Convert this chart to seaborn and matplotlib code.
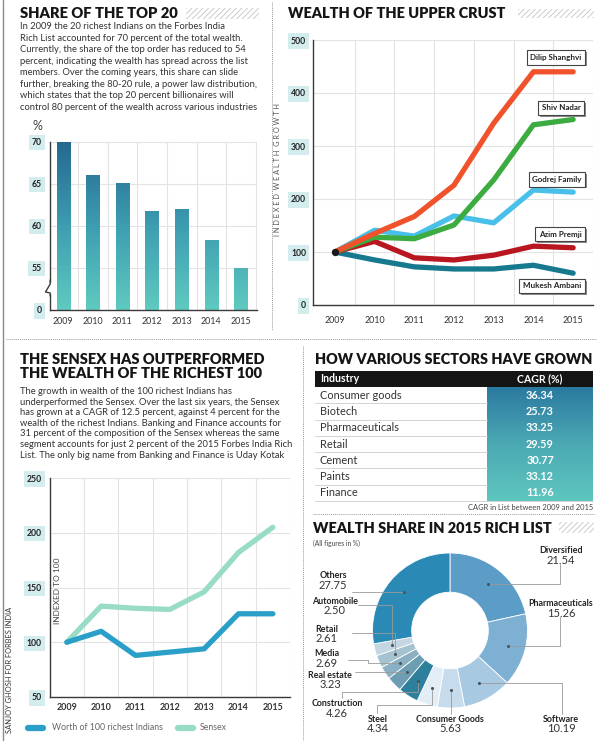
import numpy as np
import pandas as pd
import matplotlib
matplotlib.use('Agg')
import matplotlib.pyplot as plt
import seaborn as sns
import matplotlib.patheffects as pe
from matplotlib.colors import LinearSegmentedColormap
from matplotlib.patches import Rectangle

# ---------------- data ----------------
years = ['2009', '2010', '2011', '2012', '2013', '2014', '2015']
top20_share = [70, 66, 65, 61.7, 62, 58.2, 54.9]
top20_ticks = [50, 55, 60, 65, 70]
top20_ticklabels = ['0', '55', '60', '65', '70']

shanghvi = [100, 135, 167, 226, 343, 440, 440]
nadar = [100, 128, 125, 151, 236, 340, 350]
godrej = [100, 141, 130, 168, 155, 217, 213]
premji = [100, 120, 89, 85, 94, 111, 108]
ambani = [100, 85, 72, 68, 68, 75, 60]
upper_names = ['Mukesh Ambani', 'Godrej Family', 'Azim Premji', 'Shiv Nadar', 'Dilip Shanghvi']

richest100 = [100, 110, 88, 91, 94, 126, 126]
sensex = [100, 133, 131, 130, 146, 182, 205]

industries = ['Consumer goods', 'Biotech', 'Pharmaceuticals', 'Retail', 'Cement', 'Paints', 'Finance']
cagr = [36.34, 25.73, 33.25, 29.59, 30.77, 33.12, 11.96]

share_labels = ['Diversified', 'Pharmaceuticals', 'Software', 'Consumer Goods', 'Steel',
                'Construction', 'Real estate', 'Media', 'Retail', 'Automobile', 'Others']
share_values = [21.54, 15.26, 10.19, 5.63, 4.34, 4.26, 3.23, 2.69, 2.61, 2.50, 27.75]
share_colors = ['#5b9dc7', '#7eb0d4', '#a7c9e2', '#c6dcec', '#e3edf5',
                '#2e7f9c', '#6c9db3', '#8bb0c3', '#a5c2d1', '#c3d6e2', '#2b8ab5']

para1 = ["In 2009 the 20 richest Indians on the Forbes India",
         "Rich List accounted for 70 percent of the total wealth.",
         "Currently, the share of the top order has reduced to 54",
         "percent, indicating the wealth has spread across the list",
         "members. Over the coming years, this share can slide",
         "further, breaking the 80-20 rule, a power law distribution,",
         "which states that the top 20 percent billionaires will",
         "control 80 percent of the wealth across various industries"]
para3 = ["The growth in wealth of the 100 richest Indians has",
         "underperformed the Sensex. Over the last six years, the Sensex",
         "has grown at a CAGR of 12.5 percent, against 4 percent for the",
         "wealth of the richest Indians. Banking and Finance accounts for",
         "31 percent of the composition of the Sensex whereas the same",
         "segment accounts for just 2 percent of the 2015 Forbes India Rich",
         "List. The only big name from Banking and Finance is Uday Kotak"]

# ---------------- setup ----------------
sns.set_style('white')
plt.rcParams['font.family'] = ['Lato', 'DejaVu Sans']
plt.rcParams['hatch.linewidth'] = 0.6
plt.rcParams['hatch.color'] = '#c4c4c4'

W, H = 600, 741
fig = plt.figure(figsize=(W / 100, H / 100), dpi=100)
fig.patch.set_facecolor('white')


def rect(x0, y0, x1, y1):
    return [x0 / W, 1 - y1 / H, (x1 - x0) / W, (y1 - y0) / H]


ov = fig.add_axes([0, 0, 1, 1], zorder=20)
ov.set_xlim(0, W)
ov.set_ylim(H, 0)
ov.axis('off')
ov.patch.set_alpha(0)
renderer = fig.canvas.get_renderer()

GRID = '#e3e3e3'
SPINE = '#3a3a3a'
TICKBOX = dict(boxstyle='square,pad=0.35', fc='#d3ecee', ec='none')


def title(x, y, s, w):
    t = ov.text(x, y, s, ha='left', va='center', fontsize=11, fontweight='heavy', color='#151515')
    bb = t.get_window_extent(renderer)
    t.set_fontsize(11 * w / bb.width)
    return t


def paragraph(x, y0, dy, lines, ref_idx, ref_w):
    ts = [ov.text(x, y0 + i * dy, s, ha='left', va='center', fontsize=7, color='#333333')
          for i, s in enumerate(lines)]
    wid = ts[ref_idx].get_window_extent(renderer).width
    for t in ts:
        t.set_fontsize(7 * ref_w / wid)


def hatch(x0, y0, x1, y1):
    ov.add_patch(Rectangle((x0, y0), x1 - x0, y1 - y0, fc='none', ec='#c4c4c4', lw=0, hatch='//////'))


def style(ax, xpad, ypad, xbold=False):
    sns.despine(ax=ax)
    for s in ['left', 'bottom']:
        ax.spines[s].set_color(SPINE)
        ax.spines[s].set_linewidth(1.0)
    ax.set_xlabel('')
    ax.set_ylabel('')
    ax.tick_params(axis='both', which='both', length=0)
    ax.tick_params(axis='x', pad=xpad, labelsize=6.4, labelcolor='#333333')
    ax.tick_params(axis='y', pad=ypad, labelsize=6.2, labelcolor='#222222')
    for lab in ax.get_yticklabels():
        lab.set_bbox(TICKBOX)
        lab.set_fontweight('bold')
    if xbold:
        for lab in ax.get_xticklabels():
            lab.set_fontweight('bold')
    ax.set_axisbelow(True)


# ---------------- frame decorations ----------------
ov.plot([3, 3], [0, 741], color='#8a8a8a', lw=1.0)
ov.plot([272, 272], [2, 330], color='#9a9a9a', lw=0.7, ls=(0, (1, 1)))
ov.plot([6, 596], [339, 339], color='#9a9a9a', lw=0.7, ls=(0, (1, 1)))
ov.plot([303, 303], [346, 741], color='#9a9a9a', lw=0.7, ls=(0, (1, 1)))
ov.plot([313, 594], [514, 514], color='#9a9a9a', lw=0.7, ls=(0, (1, 1)))

# ---------------- panel 1: share of top 20 ----------------
title(20, 14, 'SHARE OF THE TOP 20', 159)
hatch(186, 8, 259, 19)
paragraph(20, 26.7, 11.5, para1, 7, 238)
ov.text(37, 126, '%', ha='center', va='center', fontsize=9, color='#444444')

ax1 = fig.add_axes(rect(50, 141.7, 257, 310))
df1 = pd.DataFrame({'year': years, 'share': top20_share})
sns.barplot(data=df1, x='year', y='share', ax=ax1, color='#3b8fa9', width=0.44, saturation=1)
cm_bar = LinearSegmentedColormap.from_list('bar', ['#5fcac0', '#3d9db1', '#25698f'])
for p in list(ax1.patches):
    x0, w, top = p.get_x(), p.get_width(), p.get_y() + p.get_height()
    grad = np.linspace(50, top, 80).reshape(-1, 1)
    ax1.imshow(grad, extent=(x0, x0 + w, 50, top), origin='lower', aspect='auto',
               cmap=cm_bar, vmin=50, vmax=70, zorder=2)
    p.set_visible(False)
ax1.set_xlim(-0.44, 6.54)
ax1.set_ylim(50, 70)
ax1.set_yticks(top20_ticks)
ax1.set_yticklabels(top20_ticklabels)
ax1.set_xticks(range(7))
ax1.set_xticklabels(years)
ax1.set_xticks(np.arange(7) + 0.5, minor=True)
ax1.grid(axis='y', which='major', color=GRID, lw=0.8)
ax1.grid(axis='x', which='minor', color=GRID, lw=0.8)
style(ax1, 5, 6)
# broken axis mark
ov.add_patch(Rectangle((47, 283), 6, 11, fc='white', ec='none', zorder=3))
ov.plot([50.2, 50.2, 45.5, 50.2, 50.2], [280, 284, 292, 293, 296], color=SPINE, lw=1.0, zorder=4)

# ---------------- panel 2: wealth of the upper crust ----------------
title(288.5, 13.5, 'WEALTH OF THE UPPER CRUST', 218)
hatch(518, 9, 594, 18)
ov.text(278, 170, '  '.join(' '.join(list(w)) for w in 'INDEXED WEALTH GROWTH'.split()),
        rotation=90, ha='center', va='center', fontsize=5.3, color='#555555')

ax2 = fig.add_axes(rect(313, 40, 593, 305))
df2 = pd.DataFrame({'Dilip Shanghvi': shanghvi, 'Shiv Nadar': nadar, 'Godrej Family': godrej,
                    'Azim Premji': premji, 'Mukesh Ambani': ambani})
df2['x'] = range(7)
long2 = df2.melt(id_vars='x', var_name='name', value_name='v')
pal2 = {'Dilip Shanghvi': '#f0522b', 'Shiv Nadar': '#3cab40', 'Godrej Family': '#48c0ea',
        'Azim Premji': '#b9161f', 'Mukesh Ambani': '#16798e'}
sns.lineplot(data=long2, x='x', y='v', hue='name', hue_order=upper_names, palette=pal2,
             lw=3.8, legend=False, ax=ax2, solid_capstyle='round', solid_joinstyle='round')
ax2.scatter([0], [shanghvi[0]], s=28, color='#1a1a1a', zorder=6, lw=0)
ax2.set_xlim(-0.55, 6.45)
ax2.set_ylim(0, 500)
ax2.set_yticks([0, 100, 200, 300, 400, 500])
ax2.set_xticks(range(7))
ax2.set_xticklabels(years)
ax2.set_xticks(np.arange(7) + 0.5, minor=True)
ax2.grid(axis='y', which='major', color=GRID, lw=0.8)
ax2.grid(axis='x', which='minor', color=GRID, lw=0.8)
style(ax2, 8, 5)


def name_box(x, y, s):
    t = ov.text(x, y, s, ha='center', va='center', fontsize=5.8, fontweight='bold', color='#222222',
                bbox=dict(boxstyle='square,pad=0.45', fc='white', ec='#444444', lw=0.8))
    t.get_bbox_patch().set_path_effects([pe.SimplePatchShadow(offset=(1.3, -1.3), shadow_rgbFace='#8a8a8a',
                                                              alpha=1.0), pe.Normal()])


name_box(556, 57.5, 'Dilip Shanghvi')
name_box(561, 108, 'Shiv Nadar')
name_box(557, 179.5, 'Godrej Family')
name_box(560, 234, 'Azim Premji')
name_box(552, 286, 'Mukesh Ambani')

# ---------------- panel 3: sensex vs richest 100 ----------------
title(20.5, 359.5, 'THE SENSEX HAS OUTPERFORMED', 246)
title(20.5, 373.5, 'THE WEALTH OF THE RICHEST 100', 243)
paragraph(20, 391.7, 10.55, para3, 5, 272)

ax3 = fig.add_axes(rect(50, 478, 290, 697))
df3 = pd.DataFrame({'x': list(range(7)) * 2, 'v': sensex + richest100,
                    'series': ['Sensex'] * 7 + ['Worth of 100 richest Indians'] * 7})
pal3 = {'Sensex': '#98dbc6', 'Worth of 100 richest Indians': '#2a9fc8'}
sns.lineplot(data=df3, x='x', y='v', hue='series', palette=pal3, lw=3.8, legend=False, ax=ax3,
             solid_capstyle='round', solid_joinstyle='round')
ax3.set_xlim(-0.49, 6.43)
ax3.set_ylim(50, 250)
ax3.set_yticks([50, 100, 150, 200, 250])
ax3.set_xticks(range(7))
ax3.set_xticklabels(years)
ax3.set_xticks(np.arange(7) + 0.5, minor=True)
ax3.grid(axis='y', which='major', color=GRID, lw=0.8)
ax3.grid(axis='x', which='minor', color=GRID, lw=0.8)
style(ax3, 4, 6, xbold=True)
ov.text(57, 591, 'INDEXED TO 100', rotation=90, ha='center', va='center', fontsize=6, color='#444444')
ov.text(10, 670, 'SANJOY GHOSH FOR FORBES INDIA', rotation=90, ha='center', va='center',
        fontsize=5.4, color='#333333')
ov.plot([28, 43], [728, 728], color=pal3['Worth of 100 richest Indians'], lw=4.5, solid_capstyle='round')
ov.text(52, 728, 'Worth of 100 richest Indians', ha='left', va='center', fontsize=6.3, color='#666666')
ov.plot([178, 193], [728, 728], color=pal3['Sensex'], lw=4.5, solid_capstyle='round')
ov.text(200, 728, 'Sensex', ha='left', va='center', fontsize=6.3, color='#666666')

# ---------------- panel 4: sector table ----------------
title(315, 359.5, 'HOW VARIOUS SECTORS HAVE GROWN', 278)
ov.add_patch(Rectangle((315, 371), 278, 16, fc='#141414', ec='none'))
ov.text(320, 379, 'Industry', ha='left', va='center', fontsize=7.6, fontweight='bold', color='white')
ov.text(540, 379, 'CAGR (%)', ha='center', va='center', fontsize=7.6, fontweight='bold', color='white')
row_h = (501 - 387) / len(industries)
cm_tab = LinearSegmentedColormap.from_list('tab', ['#2b7aa0', '#4ba9b3', '#5fc6bf'])
ov.imshow(np.linspace(0, 1, 100).reshape(-1, 1), extent=(487, 593, 501, 387), origin='upper',
          aspect='auto', cmap=cm_tab, zorder=1)
for i, (ind, val) in enumerate(zip(industries, cagr)):
    yc = 387 + row_h * (i + 0.5)
    ov.text(320, yc, ind, ha='left', va='center', fontsize=7.9, color='#333333')
    ov.text(540, yc, f'{val:.2f}', ha='center', va='center', fontsize=7.8, fontweight='bold', color='white')
    yl = 387 + row_h * (i + 1)
    ov.plot([315, 487 if i < len(industries) - 1 else 593], [yl, yl], color='#cccccc', lw=0.6)
ov.text(593, 508, 'CAGR in List between 2009 and 2015', ha='right', va='center', fontsize=5.4, color='#444444')

# ---------------- panel 5: donut ----------------
title(313, 528.3, 'WEALTH SHARE IN 2015 RICH LIST', 240)
hatch(559, 522, 594, 533)
ov.text(313, 543, '(All figures in %)', ha='left', va='center', fontsize=4.8, color='#444444')

CX, CY, R_OUT, R_IN = 450, 630.5, 77.5, 38.3
axd = fig.add_axes(rect(CX - 100, CY - 100, CX + 100, CY + 100))
axd.pie(share_values, colors=share_colors, startangle=90, counterclock=False, radius=1,
        wedgeprops=dict(width=1 - R_IN / R_OUT, edgecolor='white', linewidth=0.6))
lim = 100 / R_OUT
axd.set_xlim(-lim, lim)
axd.set_ylim(-lim, lim)
axd.set_aspect('equal')
axd.axis('off')

label_pos = {
    'Diversified': (561, 550.7, [('h', 560), ('v', 563)]),
    'Pharmaceuticals': (561, 604, [('h', 560), ('v', 617)]),
    'Software': (561, 719, [('h', 562), ('v', 714)]),
    'Consumer Goods': (450, 719, [('v', 714)]),
    'Steel': (378, 719, [('v', 705), ('h', 377), ('v', 713)]),
    'Construction': (337, 704, [('v', 692), ('h', 342), ('v', 698)]),
    'Real estate': (330, 675, [('h', 355)]),
    'Media': (327, 654, [('h', 368), ('v', 660), ('h', 348)]),
    'Retail': (327, 629, [('v', 633), ('h', 352)]),
    'Automobile': (335, 601, [('v', 605), ('h', 358)]),
    'Others': (333, 576, [('h', 352)]),
}
cum = np.cumsum([0] + share_values)
total = cum[-1]
r_dot = 0.5 * (R_IN + R_OUT) + 2
for lab, val, c0, c1 in zip(share_labels, share_values, cum[:-1], cum[1:]):
    th = 2 * np.pi * (c0 + c1) / 2 / total
    dx, dy = CX + r_dot * np.sin(th), CY - r_dot * np.cos(th)
    lx, ly, route = label_pos[lab]
    xs, ys = [dx], [dy]
    for kind, v in route:
        if kind == 'h':
            xs.append(v); ys.append(ys[-1])
        else:
            xs.append(xs[-1]); ys.append(v)
    ov.plot(xs, ys, color='#9a9a9a', lw=0.6, zorder=21)
    ov.scatter([dx], [dy], s=5, color='#4a5560', zorder=22, lw=0)
    ov.text(lx, ly, lab, ha='center', va='center', fontsize=6.4, fontweight='bold', color='#222222')
    ov.text(lx, ly + 9.5, f'{val:.2f}', ha='center', va='center', fontsize=8, color='#333333')

ov.set_xlim(0, W)
ov.set_ylim(H, 0)
fig.savefig('out.png', dpi=100)
